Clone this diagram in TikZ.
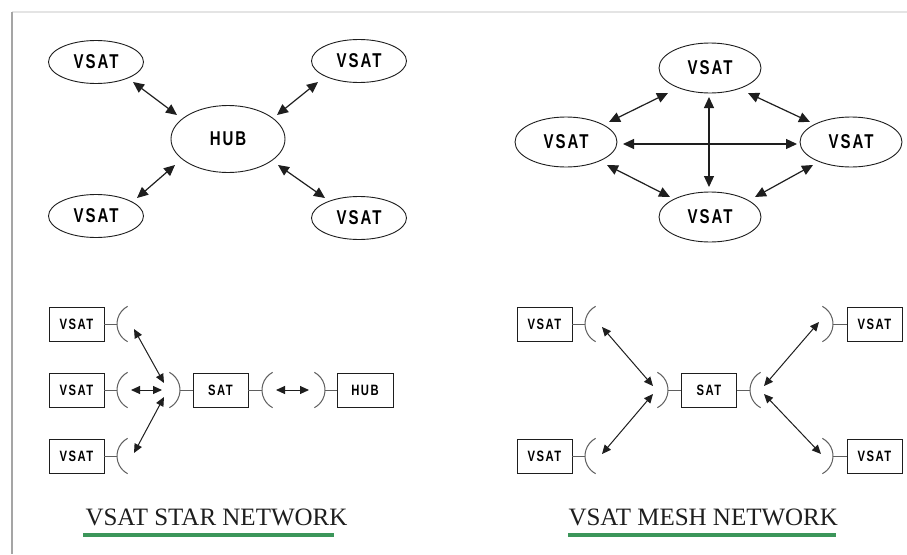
\documentclass[tikz,border=0pt]{standalone}
\usepackage{fontspec}
\setmainfont{Liberation Serif}
\newfontfamily\lblfont[FakeStretch=0.75,LetterSpace=10]{Liberation Sans}
\usetikzlibrary{shapes.geometric,arrows.meta}
\definecolor{ink}{RGB}{30,30,30}
\definecolor{wire}{RGB}{95,95,95}
\definecolor{ulgreen}{RGB}{60,150,90}
\begin{document}
\begin{tikzpicture}[x=1pt,y=-1pt,
  ell/.style={ellipse,draw=ink,line width=0.9pt,inner sep=0pt,
    font={\lblfont\bfseries\fontsize{20pt}{20pt}\selectfont}},
  starell/.style={ell,minimum width=95pt,minimum height=43pt},
  meshell/.style={ell,minimum width=102pt,minimum height=50pt},
  box/.style={rectangle,draw=ink,line width=0.9pt,inner sep=0pt,
    minimum width=55pt,minimum height=34pt,
    font={\lblfont\bfseries\fontsize{15pt}{15pt}\selectfont}},
  bigarrow/.style={draw=ink,line width=1.2pt,
    {Triangle[length=11pt,width=10pt]}-{Triangle[length=11pt,width=10pt]}},
  smallarrow/.style={draw=ink,line width=1pt,
    {Triangle[length=9pt,width=8pt]}-{Triangle[length=9pt,width=8pt]}},
  wireline/.style={draw=wire,line width=1pt},
  title/.style={anchor=base west,text=ink,font={\fontsize{25pt}{25pt}\selectfont}},
  uline/.style={draw=ulgreen,line width=3.5pt},
  dishR/.pic={\draw[wireline] (20pt,0pt) ++(118:20pt) arc[start angle=118,end angle=242,radius=20pt];},
  dishL/.pic={\draw[wireline] (-20pt,0pt) ++(62:20pt) arc[start angle=62,end angle=-62,radius=20pt];}
]
\useasboundingbox (0,0) rectangle (907,554);
\fill[white] (0,0) rectangle (907,554);
% page frame
\draw[draw={rgb,255:red,228;green,228;blue,228},line width=1.2pt] (12,12) -- (907,12);
\draw[draw={rgb,255:red,165;green,165;blue,165},line width=1.5pt] (12,12) -- (12,554);

% ---------- star (top left) ----------
\node[starell] (sv1) at (96,62) {VSAT};
\node[starell] (sv2) at (359,61) {VSAT};
\node[starell] (sv3) at (96,216) {VSAT};
\node[starell] (sv4) at (359,218) {VSAT};
\node[ell,minimum width=114pt,minimum height=67pt] (shub) at (228,139) {HUB};
\coordinate (a1s) at (133,82);  \coordinate (a1e) at (177,115);
\coordinate (a2s) at (318,82);  \coordinate (a2e) at (277,115);
\coordinate (a3s) at (137,198); \coordinate (a3e) at (175,165);
\coordinate (a4s) at (325,198); \coordinate (a4e) at (278,165);
\draw[bigarrow] (a1s) -- (a1e);
\draw[bigarrow] (a2s) -- (a2e);
\draw[bigarrow] (a3s) -- (a3e);
\draw[bigarrow] (a4s) -- (a4e);

% ---------- mesh (top right) ----------
\node[meshell] (mt) at (710,68) {VSAT};
\node[meshell] (ml) at (566,142) {VSAT};
\node[meshell] (mr) at (851,142) {VSAT};
\node[meshell] (mb) at (710,217) {VSAT};
\coordinate (h1) at (623,144); \coordinate (h2) at (797,144);
\coordinate (v1) at (709,97);  \coordinate (v2) at (709,187);
\coordinate (b1s) at (668,93);  \coordinate (b1e) at (609,122);
\coordinate (b2s) at (748,93);  \coordinate (b2e) at (810,122);
\coordinate (b3s) at (607,165); \coordinate (b3e) at (670,197);
\coordinate (b4s) at (813,165); \coordinate (b4e) at (755,197);
\draw[bigarrow] (h1) -- (h2);
\draw[bigarrow] (v1) -- (v2);
\draw[bigarrow] (b1s) -- (b1e);
\draw[bigarrow] (b2s) -- (b2e);
\draw[bigarrow] (b3s) -- (b3e);
\draw[bigarrow] (b4s) -- (b4e);

% ---------- star (bottom left) ----------
\node[box] (bv1) at (76.5,324) {VSAT};
\node[box] (bv2) at (76.5,390) {VSAT};
\node[box] (bv3) at (76.5,456) {VSAT};
\node[box] (bsat) at (220.5,390) {SAT};
\node[box,minimum width=56pt] (bhub) at (365,390) {HUB};
\coordinate (d1) at (117,324);
\coordinate (d2) at (117,390);
\coordinate (d3) at (117,456);
\coordinate (ds1) at (180,390);
\coordinate (ds2) at (262,390);
\coordinate (dh) at (325,390);
\draw[wireline] (bv1.east) -- (d1);
\draw[wireline] (bv2.east) -- (d2);
\draw[wireline] (bv3.east) -- (d3);
\draw[wireline] (ds1) -- (bsat.west);
\draw[wireline] (bsat.east) -- (ds2);
\draw[wireline] (dh) -- (bhub.west);
\pic at (d1) {dishR};
\pic at (d2) {dishR};
\pic at (d3) {dishR};
\pic at (ds1) {dishL};
\pic at (ds2) {dishR};
\pic at (dh) {dishL};
\coordinate (c1s) at (134,329); \coordinate (c1e) at (164,383);
\coordinate (c2s) at (131,390); \coordinate (c2e) at (162,390);
\coordinate (c3s) at (134,453); \coordinate (c3e) at (164,397);
\coordinate (c4s) at (276,390); \coordinate (c4e) at (309,390);
\draw[smallarrow] (c1s) -- (c1e);
\draw[smallarrow] (c2s) -- (c2e);
\draw[smallarrow] (c3s) -- (c3e);
\draw[smallarrow] (c4s) -- (c4e);

% ---------- mesh (bottom right) ----------
\node[box] (mv1) at (544.5,324) {VSAT};
\node[box] (mv2) at (544.5,456) {VSAT};
\node[box] (msat) at (709,390) {SAT};
\node[box] (mv3) at (874.5,324) {VSAT};
\node[box] (mv4) at (874.5,456) {VSAT};
\coordinate (e1) at (585,324);
\coordinate (e2) at (585,456);
\coordinate (es1) at (668,390);
\coordinate (es2) at (750,390);
\coordinate (e3) at (833,324);
\coordinate (e4) at (833,456);
\draw[wireline] (mv1.east) -- (e1);
\draw[wireline] (mv2.east) -- (e2);
\draw[wireline] (es1) -- (msat.west);
\draw[wireline] (msat.east) -- (es2);
\draw[wireline] (e3) -- (mv3.west);
\draw[wireline] (e4) -- (mv4.west);
\pic at (e1) {dishR};
\pic at (e2) {dishR};
\pic at (es1) {dishL};
\pic at (es2) {dishR};
\pic at (e3) {dishL};
\pic at (e4) {dishL};
\coordinate (f1s) at (602,327); \coordinate (f1e) at (653,386);
\coordinate (f2s) at (602,454); \coordinate (f2e) at (653,394);
\coordinate (f3s) at (819,322); \coordinate (f3e) at (764,386);
\coordinate (f4s) at (821,454); \coordinate (f4e) at (764,394);
\draw[smallarrow] (f1s) -- (f1e);
\draw[smallarrow] (f2s) -- (f2e);
\draw[smallarrow] (f3s) -- (f3e);
\draw[smallarrow] (f4s) -- (f4e);

% ---------- titles ----------
\node[title] (t1) at (82,525) {VSAT STAR NETWORK};
\node[title] (t2) at (565,525) {VSAT MESH NETWORK};
\draw[uline] (83,535) -- (334,535);
\draw[uline] (568,535) -- (836,535);
\end{tikzpicture}
\end{document}
